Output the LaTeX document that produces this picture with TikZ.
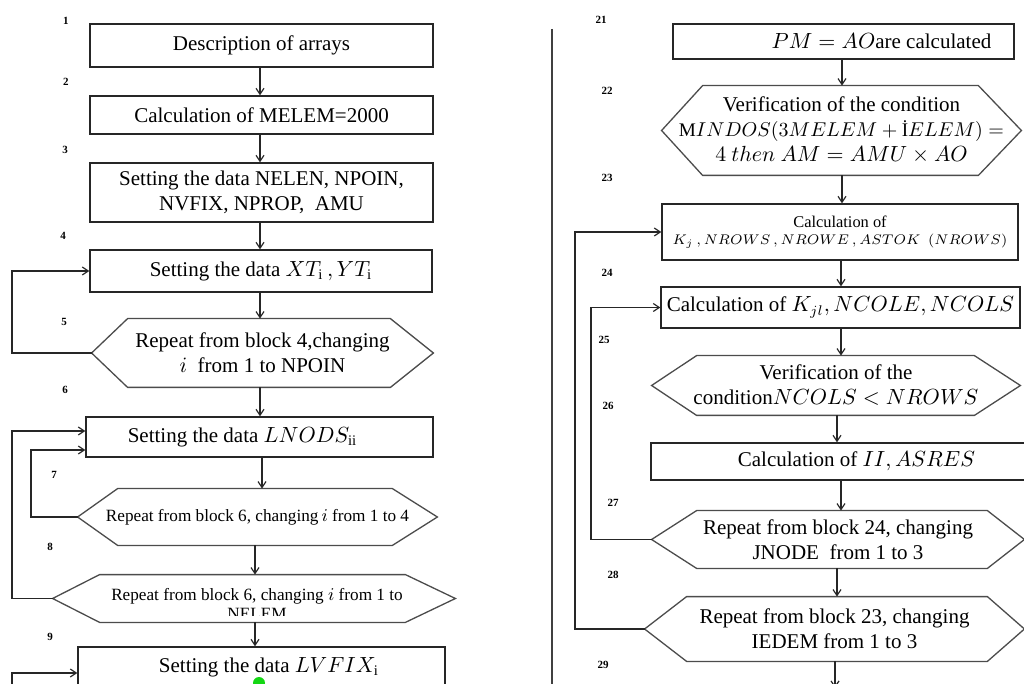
\documentclass[tikz,border=0pt]{standalone}
\usepackage{fontspec}
\setmainfont{Liberation Serif}
\usetikzlibrary{arrows.meta}

\newcommand\fsMain{\fontsize{10.5}{12.5}\selectfont}
\newcommand\fsSmall{\fontsize{8.6}{9.6}\selectfont}
\newcommand\fsTiny{\fontsize{8.2}{8.6}\selectfont}
\newcommand\fsNum{\fontsize{5.5}{6}\selectfont\bfseries}

% hexagonal outline around a node: name, left inset, right inset
\newcommand\hexoutline[3]{%
  \draw[hexline] (#1.west) -- ([shift={(#2,0)}]#1.north west)
    -- ([shift={(-#3,0)}]#1.north east) -- (#1.east)
    -- ([shift={(-#3,0)}]#1.south east) -- ([shift={(#2,0)}]#1.south west) -- cycle;}

\begin{document}
\begin{tikzpicture}[x=0.5pt,y=-0.5pt,
  span/.style args={#1/#2/#3/#4}{minimum width={(#3-#1)*0.5pt}, minimum height={(#4-#2)*0.5pt},
    at={({(#1+#3)/2},{(#2+#4)/2})}},
  box/.style={draw=black!85, line width=0.65pt, inner sep=0pt, align=center, font=\fsMain},
  hexa/.style={inner sep=0pt, align=center, font=\fsMain},
  hexline/.style={draw=black!70, line width=0.65pt},
  flow/.style={draw=black!85, line width=0.6pt, -{Straight Barb[length=3pt,width=4pt]}},
  divider/.style={draw=black!75, line width=1pt},
  num/.style={inner sep=0pt, font=\fsNum},
  dot/.style={circle, fill={rgb,255:red,20;green,215;blue,20}, inner sep=0pt, minimum size=6pt}]

\useasboundingbox (0,0) rectangle (1024,684);
\clip (0,0) rectangle (1024,684);
\fill[white] (0,0) rectangle (1024,684);

% rails for the return loops and columns for the vertical arrows
\coordinate (railA) at (12,0);
\coordinate (railB) at (31,0);
\coordinate (railC) at (575,0);
\coordinate (railD) at (591,0);
\coordinate (colA) at (260,0);
\coordinate (colB) at (262,0);
\coordinate (colC) at (255,0);
\coordinate (colD) at (842,0);
\coordinate (colE) at (841,0);
\coordinate (colF) at (837,0);

% ---------------- left column ----------------
\node[box, span=90/24/433/67] (b1) {Description of arrays};
\node[box, span=90/96/433/134] (b2) {Calculation of MELEM=2000};
\node[box, span=90/163/433/222] (b3) {Setting the data NELEN, NPOIN,\\NVFIX, NPROP,\ \ AMU};
\node[box, span=90/250/432/292] (b4) {Setting the data $XT_{\mathrm{i}}\,,YT_{\mathrm{i}}$};
\node[hexa, span=92/319/433/387] (h5) {Repeat from block 4,changing\\$i$\ \ from 1 to NPOIN};
\node[box, span=86/417/433/457] (b6) {Setting the data $LNODS_{\mathrm{ii}}$\hspace*{17pt}};
\node[hexa, font=\fsSmall, span=78/489/437/545] (h7) {Repeat from block 6, changing$\,i$\ from 1 to 4};
\node[hexa, span=53/575/455/622] (h8) {};
\begin{scope}
  \clip (53,570) rectangle (455,615);
  \node[font=\fsSmall, align=center, inner sep=0pt] (t8) at (257,604)
    {Repeat from block 6, changing\ $i$\ from 1 to\\NELEM};
\end{scope}
\node[box, span=78/647/445/687] (b9) {\hspace*{7.5pt}Setting the data $LVFIX_{\mathrm{i}}$};
\node[dot] (gd) at (259,683) {};

\hexoutline{h5}{36}{43}
\hexoutline{h7}{40}{45}
\hexoutline{h8}{47}{50}

\node[num] (n1) at (66,21) {1};
\node[num] (n2) at (66,82) {2};
\node[num] (n3) at (65,150) {3};
\node[num] (n4) at (63,236) {4};
\node[num] (n5) at (64,322) {5};
\node[num] (n6) at (65,390) {6};
\node[num] (n7) at (54,475) {7};
\node[num] (n8) at (50,547) {8};
\node[num] (n9) at (50,637) {9};

\draw[flow] (b1.south -| colA) -- (b2.north -| colA);
\draw[flow] (b2.south -| colA) -- (b3.north -| colA);
\draw[flow] (b3.south -| colA) -- (b4.north -| colA);
\draw[flow] (b4.south -| colA) -- (h5.north -| colA);
\draw[flow] (h5.south -| colA) -- (b6.north -| colA);
\draw[flow] (b6.south -| colB) -- (h7.north -| colB);
\draw[flow] (h7.south -| colC) -- (h8.north -| colC);
\draw[flow] (h8.south -| colC) -- (b9.north -| colC);

\draw[flow] (h5.west) -- (h5.west -| railA) |- (b4.west);
\draw[flow] (h8.west) -- (h8.west -| railA) |- ([shift={(0,-6)}]b6.west);
\draw[flow] (h7.west) -- (h7.west -| railB) |- ([shift={(0,13)}]b6.west);
\coordinate (lowL) at (12,700);
\draw[flow] (lowL) |- ([shift={(0,6)}]b9.west);

% separator between the two halves
\coordinate (divTop) at (552,29);
\coordinate (divBot) at (552,700);
\draw[divider] (divTop) -- (divBot);

% ---------------- right column ----------------
\node[box, span=673/24/1014/59] (b21) {\hspace*{38pt}$PM=AO$are calculated};
\node[hexa, span=662/86/1021/175] (h22)
  {Verification of the condition\\{\fontsize{9.6}{12.5}\selectfont$\mathrm{M}INDOS(3MELEM+\mbox{İ}ELEM)=$}\\$4\ then\ AM=AMU\times AO$};
\node[box, font=\fsTiny, span=662/204/1018/260] (b23)
  {Calculation of\\{\fontsize{7.4}{8.6}\selectfont$K_j\,,NROWS\,,NROWE\,,ASTOK\ \ (NROWS)$}};
\node[box, span=661/287/1020/328] (b24) {Calculation of $K_{jl}, NCOLE,NCOLS$};
\node[hexa, span=652/356/1020/415] (h25) {Verification of the\\condition$NCOLS<NROWS$};
\node[box, span=651/443/1040/480] (b26) {\hspace*{11pt}Calculation of $II, ASRES$};
\node[hexa, span=652/511/1024/568] (h27) {Repeat from block 24, changing\\JNODE\ \ from 1 to 3};
\node[hexa, span=645/597/1024/661] (h28) {Repeat from block 23, changing\\IEDEM from 1 to 3};

\hexoutline{h22}{41}{43}
\hexoutline{h25}{45}{46}
\hexoutline{h27}{45}{37}
\hexoutline{h28}{42}{37}

\node[num] (n21) at (601,20) {21};
\node[num] (n22) at (607,91) {22};
\node[num] (n23) at (607,178) {23};
\node[num] (n24) at (607,273) {24};
\node[num] (n25) at (604,340) {25};
\node[num] (n26) at (608,406) {26};
\node[num] (n27) at (613,503) {27};
\node[num] (n28) at (613,575) {28};
\node[num] (n29) at (603,665) {29};

\draw[flow] (b21.south -| colD) -- (h22.north -| colD);
\draw[flow] (h22.south -| colD) -- (b23.north -| colD);
\draw[flow] (b23.south -| colE) -- (b24.north -| colE);
\draw[flow] (b24.south -| colE) -- (h25.north -| colE);
\draw[flow] (h25.south -| colF) -- (b26.north -| colF);
\draw[flow] (b26.south -| colE) -- (h27.north -| colE);
\draw[flow] (h27.south -| colF) -- (h28.north -| colF);
\coordinate (endR) at (835,688);
\draw[flow] (h28.south -| endR) -- (endR);

\draw[flow] (h28.west) -- (h28.west -| railC) |- (b23.west);
\draw[flow] (h27.west) -- (h27.west -| railD) |- (b24.west);

\end{tikzpicture}
\end{document}
